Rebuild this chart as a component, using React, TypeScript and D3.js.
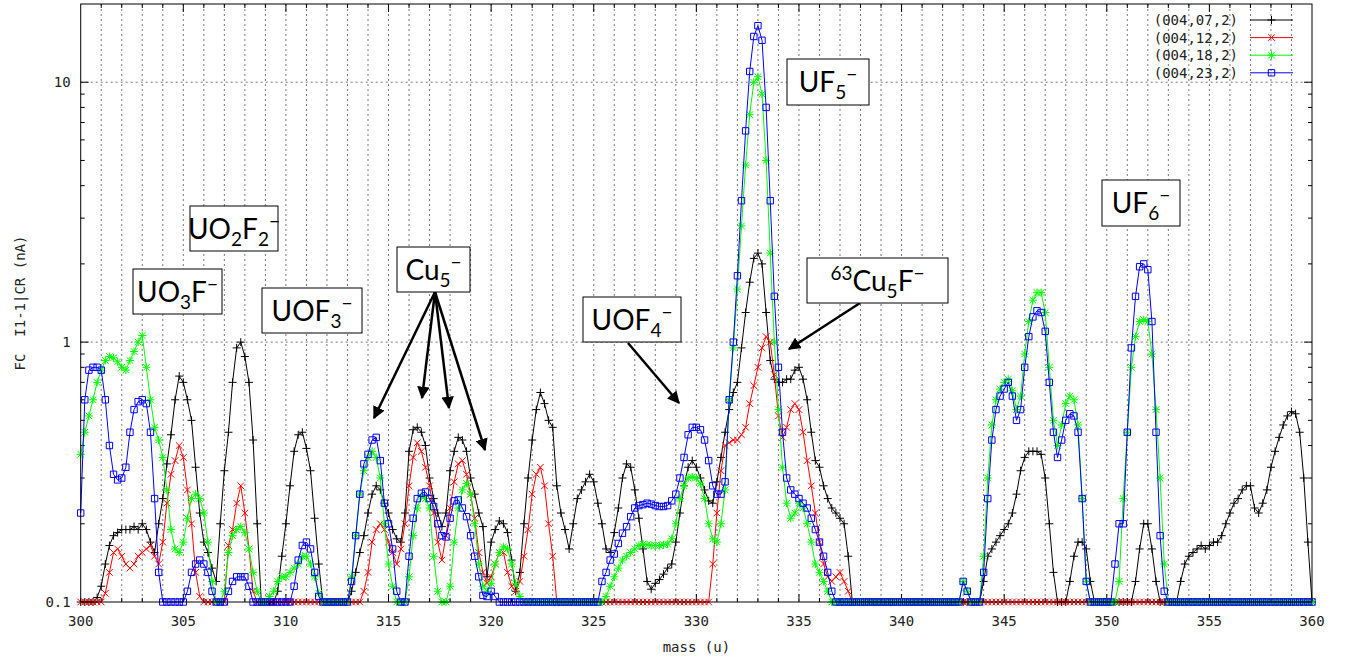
import React from 'react';
import * as d3 from 'd3';

const massStart = 300;
const massStep = 0.2;

// (004,07,2) black
const series07 = [
  .1,.1,.1,.1,.104, .115,.14,.165,.18,.185, .19,.19,.19,.195,.19, .2,.19,.17,.155,.2,
  .25,.34,.44,.6,.74, .7,.6,.5,.33,.22, .17,.155,.135,.12,.2, .32,.45,.7,.95,1,
  .88,.7,.42,.2,.1, .1,.1,.1,.11,.15, .2,.28,.38,.44,.45, .39,.32,.21,.14,.1,
  .1,.1,.1,.1,.1, .1,.11,.13,.155,.18, .22,.26,.28,.27,.24, .22,.19,.175,.17,.22,
  .38,.46,.47,.45,.4, .3,.25,.22,.195,.22, .32,.38,.43,.42,.38, .3,.26,.22,.195,.125,
  .17,.19,.205,.2,.185, .145,.11,.13,.2,.3, .42,.55,.64,.58,.5, .47,.28,.22,.19,.16,
  .2,.25,.27,.29,.31, .29,.24,.2,.16,.155, .185,.23,.3,.34,.33, .27,.21,.16,.12,.112,
  .118,.122,.128,.135,.14, .17,.22,.28,.33,.35, .33,.3,.27,.245,.24, .29,.36,.45,.55,.64,
  .7,.95,1.3,1.7,2.1, 2.2,2,1.3,.85,.72, .7,.7,.72,.72,.78, .8,.72,.6,.45,.35,
  .33,.28,.25,.23,.22, .21,.2,.15,.1,.1, .1,.1,.1,.1,.1, .1,.1,.1,.1,.1,
  .1,.1,.1,.1,.1, .1,.1,.1,.1,.1, .1,.1,.1,.1,.1, .1,.1,.1,.1,.1,
  .12,.15,.16,.17,.18, .19,.2,.22,.26,.32, .36,.38,.38,.38,.37, .3,.2,.13,.1,.1,
  .1,.12,.15,.17,.17, .16,.12,.1,.1,.1, .1,.1,.1,.1,.1, .1,.1,.12,.16,.2,
  .2,.16,.12,.1,.1, .1,.1,.1,.12,.14, .15,.155,.16,.165,.16, .165,.17,.17,.18,.2,
  .22,.24,.25,.27,.28, .28,.23,.22,.24,.27, .33,.38,.43,.48,.52, .54,.53,.45,.3,.17,
  .1,
];

// (004,12,2) red
const series12 = [
  .1,.1,.1,.1,.1, .1,.108,.13,.155,.16, .15,.14,.135,.14,.15, .155,.16,.165,.15,.14,
  .17,.24,.31,.35,.4, .36,.27,.2,.13,.105, .1,.1,.1,.1,.1, .1,.165,.19,.24,.28,
  .22,.16,.11,.1,.1, .1,.1,.1,.1,.1, .1,.1,.1,.1,.1, .1,.1,.1,.1,.1,
  .1,.1,.1,.1,.1, .1,.1,.1,.1,.11, .13,.17,.19,.2,.19, .17,.155,.14,.16,.2,
  .28,.36,.41,.38,.33, .28,.22,.17,.145,.18, .23,.29,.34,.35,.31, .26,.21,.155,.13,.118,
  .125,.14,.155,.155,.13, .115,.11,.12,.15,.19, .26,.31,.33,.28,.2, .15,.1,.1,.1,.1,
  .1,.1,.1,.1,.1, .1,.1,.1,.1,.1, .1,.1,.1,.1,.1, .1,.1,.1,.1,.1,
  .1,.1,.1,.1,.1, .1,.1,.1,.1,.1, .1,.1,.1,.1,.14, .22,.32,.4,.41,.42,
  .42,.44,.47,.58,.68, .8,.95,1.05,1,.75, .52,.43,.47,.55,.58, .55,.45,.35,.28,.22,
  .17,.14,.125,.12,.125, .13,.12,.11,.1,.1, .1,.1,.1,.1,.1, .1,.1,.1,.1,.1,
  .1,.1,.1,.1,.1, .1,.1,.1,.1,.1, .1,.1,.1,.1,.1, .1,.1,.1,.1,.1,
  .1,.1,.1,.1,.1, .1,.1,.1,.1,.1, .1,.1,.1,.1,.1, .1,.1,.1,.1,.1,
  .1,.1,.1,.1,.1, .1,.1,.1,.1,.1, .1,.1,.1,.1,.1, .1,.1,.1,.1,.1,
  .1,.1,.1,.1,.1, .1,.1,.1,.1,.1, .1,.1,.1,.1,.1, .1,.1,.1,.1,.1,
  .1,.1,.1,.1,.1, .1,.1,.1,.1,.1, .1,.1,.1,.1,.1, .1,.1,.1,.1,.1,
  .1,
];

// (004,18,2) green
const series18 = [
  .37,.45,.52,.6,.7, .78,.85,.88,.87,.84, .8,.78,.85,.92,1, 1.06,.8,.6,.47,.42,
  .36,.27,.19,.16,.155, .17,.21,.25,.26,.25, .22,.17,.12,.1,.1, .11,.155,.18,.19,.195,
  .185,.16,.13,.11,.1, .1,.105,.11,.12,.125, .125,.13,.135,.14,.15, .15,.14,.125,.108,.1,
  .1,.1,.1,.1,.1, .1,.125,.18,.26,.32, .36,.38,.36,.3,.2, .14,.115,.1,.1,.1,
  .125,.18,.23,.255,.25, .23,.15,.11,.1,.1, .115,.17,.23,.27,.286, .26,.2,.14,.115,.11,
  .118,.14,.155,.163,.16, .14,.118,.105,.1,.1, .1,.1,.1,.1,.1, .1,.1,.1,.1,.1,
  .1,.1,.1,.1,.1, .1,.1,.1,.105,.115, .125,.135,.145,.15,.155, .16,.165,.167,.166,.165,
  .165,.165,.166,.167,.175, .2,.25,.28,.3,.303, .3,.285,.25,.2,.175, .17,.2,.27,.6,.95,
  1.6,2.8,4.8,7.5,10, 10.5,9,5,2.2,1, .55,.33,.24,.21,.22, .24,.23,.2,.17,.14,
  .13,.12,.11,.1,.1, .1,.1,.1,.1,.1, .1,.1,.1,.1,.1, .1,.1,.1,.1,.1,
  .1,.1,.1,.1,.1, .1,.1,.1,.1,.1, .1,.1,.1,.1,.1, .12,.11,.1,.1,.1,
  .15,.3,.48,.6,.66, .7,.72,.65,.55,.62, .9,1.2,1.45,1.55,1.55, 1.3,.8,.5,.4,.48,
  .58,.62,.6,.48,.25, .12,.1,.1,.1,.1, .1,.1,.1,.12,.25, .45,.8,1.05,1.2,1.22,
  1.2,.9,.55,.3,.14, .1,.1,.1,.1,.1, .1,.1,.1,.1,.1, .1,.1,.1,.1,.1,
  .1,.1,.1,.1,.1, .1,.1,.1,.1,.1, .1,.1,.1,.1,.1, .1,.1,.1,.1,.1,
  .1,
];

// (004,23,2) blue
const series23 = [
  .22,.6,.78,.8,.8, .78,.6,.4,.31,.295, .3,.33,.45,.55,.59, .6,.58,.45,.25,.13,
  .1,.1,.1,.1,.1, .1,.11,.13,.14,.145, .14,.13,.11,.1,.1, .1,.11,.12,.125,.125,
  .125,.115,.1,.1,.1, .1,.1,.1,.1,.1, .1,.1,.115,.145,.165, .17,.16,.13,.105,.1,
  .1,.1,.1,.1,.1, .1,.12,.18,.26,.34, .37,.42,.43,.35,.24, .2,.16,.11,.1,.1,
  .15,.21,.25,.262,.265, .25,.233,.2,.18,.178, .21,.245,.247,.23,.213, .18,.15,.125,.106,.105,
  .11,.105,.1,.1,.1, .1,.1,.1,.1,.1, .1,.1,.1,.1,.1, .1,.1,.1,.1,.1,
  .1,.1,.1,.1,.1, .1,.1,.12,.13,.145, .153,.168,.184,.195,.213, .23,.235,.237,.24,.238,
  .235,.233,.233,.235,.245, .26,.3,.36,.44,.47, .47,.46,.42,.35,.28, .26,.26,.29,.6,1,
  1.8,3.5,6.5,11,15, 16.5,14.5,8,3.5,1.5, .8,.45,.3,.27,.26, .25,.24,.23,.21,.19,
  .17,.15,.13,.11,.1, .1,.1,.1,.1,.1, .1,.1,.1,.1,.1, .1,.1,.1,.1,.1,
  .1,.1,.1,.1,.1, .1,.1,.1,.1,.1, .1,.1,.1,.1,.1, .12,.11,.1,.1,.1,
  .13,.25,.42,.55,.62, .66,.7,.62,.5,.55, .8,1.05,1.25,1.32,1.3, 1.1,.7,.45,.36,.42,
  .5,.53,.52,.45,.25, .12,.1,.1,.1,.1, .1,.1,.14,.2,.2, .45,.95,1.5,1.95,2,
  1.9,1.2,.45,.18,.11, .1,.1,.1,.1,.1, .1,.1,.1,.1,.1, .1,.1,.1,.1,.1,
  .1,.1,.1,.1,.1, .1,.1,.1,.1,.1, .1,.1,.1,.1,.1, .1,.1,.1,.1,.1,
  .1,
];

const seriesNames = ['(004,07,2)', '(004,12,2)', '(004,18,2)', '(004,23,2)'];
const seriesColors = ['#000000', '#ff0000', '#00ff00', '#0000ff'];
const seriesMarkers = ['plus', 'cross', 'star', 'square'];
const xTickValues = [300, 305, 310, 315, 320, 325, 330, 335, 340, 345, 350, 355, 360];
const yTickValues = [0.1, 1, 10];
const yTickLabels = ['0.1', '1', '10'];
const xLabel = 'mass (u)';
const yLabel = 'FC  I1-1|CR (nA)';

type Part = { t: string; s?: 'sub' | 'sup' };
const annotations: { parts: Part[]; box: [number, number, number, number] }[] = [
  { parts: [{ t: 'UF' }, { t: '5', s: 'sub' }, { t: '\u2212', s: 'sup' }], box: [787, 59, 82, 46] },
  { parts: [{ t: 'UO' }, { t: '2', s: 'sub' }, { t: 'F' }, { t: '2', s: 'sub' }, { t: '\u2212', s: 'sup' }], box: [190, 206, 88, 45] },
  { parts: [{ t: 'UO' }, { t: '3', s: 'sub' }, { t: 'F' }, { t: '\u2212', s: 'sup' }], box: [133, 269, 89, 45] },
  { parts: [{ t: 'UOF' }, { t: '3', s: 'sub' }, { t: '\u2212', s: 'sup' }], box: [262, 288, 100, 45] },
  { parts: [{ t: 'Cu' }, { t: '5', s: 'sub' }, { t: '\u2212', s: 'sup' }], box: [397, 247, 73, 45] },
  { parts: [{ t: 'UOF' }, { t: '4', s: 'sub' }, { t: '\u2212', s: 'sup' }], box: [583, 297, 98, 45] },
  { parts: [{ t: '63', s: 'sup' }, { t: 'Cu' }, { t: '5', s: 'sub' }, { t: 'F' }, { t: '\u2212', s: 'sup' }], box: [807, 258, 141, 45] },
  { parts: [{ t: 'UF' }, { t: '6', s: 'sub' }, { t: '\u2212', s: 'sup' }], box: [1102, 180, 78, 46] },
];
const arrows: [number, number, number, number][] = [
  [435, 292, 374, 418],
  [435, 292, 422, 398],
  [435, 292, 449, 408],
  [435, 292, 485, 450],
  [628, 343, 679, 403],
  [860, 303, 789, 349],
];

function markerPath(kind: string, cx: number, cy: number): string {
  const p = 4, c = 3.3, q = 3.2;
  switch (kind) {
    case 'plus':
      return `M${cx - p},${cy}H${cx + p}M${cx},${cy - p}V${cy + p}`;
    case 'cross':
      return `M${cx - c},${cy - c}L${cx + c},${cy + c}M${cx - c},${cy + c}L${cx + c},${cy - c}`;
    case 'star':
      return `M${cx - p},${cy}H${cx + p}M${cx},${cy - p}V${cy + p}M${cx - c},${cy - c}L${cx + c},${cy + c}M${cx - c},${cy + c}L${cx + c},${cy - c}`;
    default:
      return `M${cx - q},${cy - q}H${cx + q}V${cy + q}H${cx - q}Z`;
  }
}

export default function App() {
  const W = 1346, H = 661;
  const left = 80.7, right = 1312, top = 4, bottom = 602;
  const x = d3.scaleLinear().domain([300, 360]).range([left, right]);
  const y = d3.scaleLog().domain([0.1, 20]).range([bottom, top]);
  const allSeries = [series07, series12, series18, series23];
  const mono = '"DejaVu Sans Mono", "Liberation Mono", monospace';
  const line = d3.line<number>()
    .x((_, i) => x(massStart + i * massStep))
    .y((v) => y(v));

  const minorX = d3.range(301, 360);
  const minorY: number[] = [];
  [0.1, 1, 10].forEach((d) => { for (let k = 2; k <= 9; k++) if (d * k < 20) minorY.push(d * k); });

  const renderAnno = (parts: Part[]) => {
    let cur = 0;
    return parts.map((p, i) => {
      const target = p.s === 'sub' ? 7 : p.s === 'sup' ? -11 : 0;
      const dy = target - cur;
      cur = target;
      return (
        <tspan key={i} dy={dy} fontSize={p.s ? 19 : 28}>{p.t}</tspan>
      );
    });
  };

  return (
    <svg width={W} height={H} style={{ position: 'absolute', left: 0, top: 0, background: '#fff' }}>
      <defs>
        <clipPath id="plotclip">
          <rect x={left - 6} y={top} width={right - left + 12} height={bottom - top + 6} />
        </clipPath>
        <marker id="arrowhead" viewBox="0 0 10 10" refX="9" refY="5" markerWidth="5" markerHeight="5" orient="auto">
          <path d="M0,0L10,5L0,10Z" fill="#000" />
        </marker>
      </defs>
      <rect x={0} y={0} width={W} height={H} fill="#fff" />
      {/* grid */}
      <g stroke="#777" strokeWidth={1} strokeDasharray="2,3">
        {minorX.map((m) => (
          <line key={m} x1={x(m)} x2={x(m)} y1={top} y2={bottom} />
        ))}
        {[1, 10].map((v) => (
          <line key={v} x1={left} x2={right} y1={y(v)} y2={y(v)} />
        ))}
      </g>
      {/* ticks */}
      <g stroke="#000" strokeWidth={1}>
        {d3.range(301, 360).map((m) => {
          const len = m % 5 === 0 ? 8 : 4;
          return (
            <g key={m}>
              <line x1={x(m)} x2={x(m)} y1={bottom} y2={bottom - len} />
              <line x1={x(m)} x2={x(m)} y1={top} y2={top + len} />
            </g>
          );
        })}
        {yTickValues.map((v) => (
          <g key={v}>
            <line x1={left} x2={left + 8} y1={y(v)} y2={y(v)} />
            <line x1={right} x2={right - 8} y1={y(v)} y2={y(v)} />
          </g>
        ))}
        {minorY.map((v) => (
          <g key={v}>
            <line x1={left} x2={left + 4} y1={y(v)} y2={y(v)} />
            <line x1={right} x2={right - 4} y1={y(v)} y2={y(v)} />
          </g>
        ))}
      </g>
      {/* data */}
      <g clipPath="url(#plotclip)">
        {allSeries.map((s, si) => (
          <g key={si}>
            <path d={line(s) || ''} fill="none" stroke={seriesColors[si]} strokeWidth={1} />
            <path
              d={s.map((v, i) => markerPath(seriesMarkers[si], x(massStart + i * massStep), y(v))).join('')}
              fill="none"
              stroke={seriesColors[si]}
              strokeWidth={1}
            />
          </g>
        ))}
      </g>
      {/* frame */}
      <rect x={left} y={top} width={right - left} height={bottom - top} fill="none" stroke="#000" strokeWidth={1} />
      {/* tick labels */}
      <g fontFamily={mono} fontSize={14} fill="#222">
        {xTickValues.map((m) => (
          <text key={m} x={x(m)} y={bottom + 24} textAnchor="middle">{String(m)}</text>
        ))}
        {yTickValues.map((v, i) => (
          <text key={v} x={left - 10} y={y(v) + 5} textAnchor="end">{yTickLabels[i]}</text>
        ))}
        <text x={(left + right) / 2} y={bottom + 50} textAnchor="middle">{xLabel}</text>
        <text
          transform={`translate(25,${(top + bottom) / 2}) rotate(-90)`}
          textAnchor="middle"
          style={{ whiteSpace: 'pre' }}
        >{yLabel}</text>
      </g>
      {/* legend */}
      <g fontFamily={mono} fontSize={14} fill="#222">
        {seriesNames.map((n, i) => {
          const ly = 20 + i * 17.6;
          return (
            <g key={n}>
              <text x={1238} y={ly + 5} textAnchor="end">{n}</text>
              <line x1={1250} x2={1293} y1={ly} y2={ly} stroke={seriesColors[i]} strokeWidth={1} />
              <path d={markerPath(seriesMarkers[i], 1271.5, ly)} fill="none" stroke={seriesColors[i]} strokeWidth={1} />
            </g>
          );
        })}
      </g>
      {/* arrows */}
      <g stroke="#000" strokeWidth={2.5}>
        {arrows.map((a, i) => (
          <line key={i} x1={a[0]} y1={a[1]} x2={a[2]} y2={a[3]} markerEnd="url(#arrowhead)" />
        ))}
      </g>
      {/* annotation boxes */}
      <g fontFamily="Lato, 'Open Sans', sans-serif" fill="#000">
        {annotations.map((a, i) => {
          const [bx, by, bw, bh] = a.box;
          return (
            <g key={i}>
              <rect x={bx} y={by} width={bw} height={bh} fill="#fff" stroke="#000" strokeWidth={1} />
              <text x={bx + bw / 2} y={by + bh / 2 + 10} textAnchor="middle">{renderAnno(a.parts)}</text>
            </g>
          );
        })}
      </g>
    </svg>
  );
}
